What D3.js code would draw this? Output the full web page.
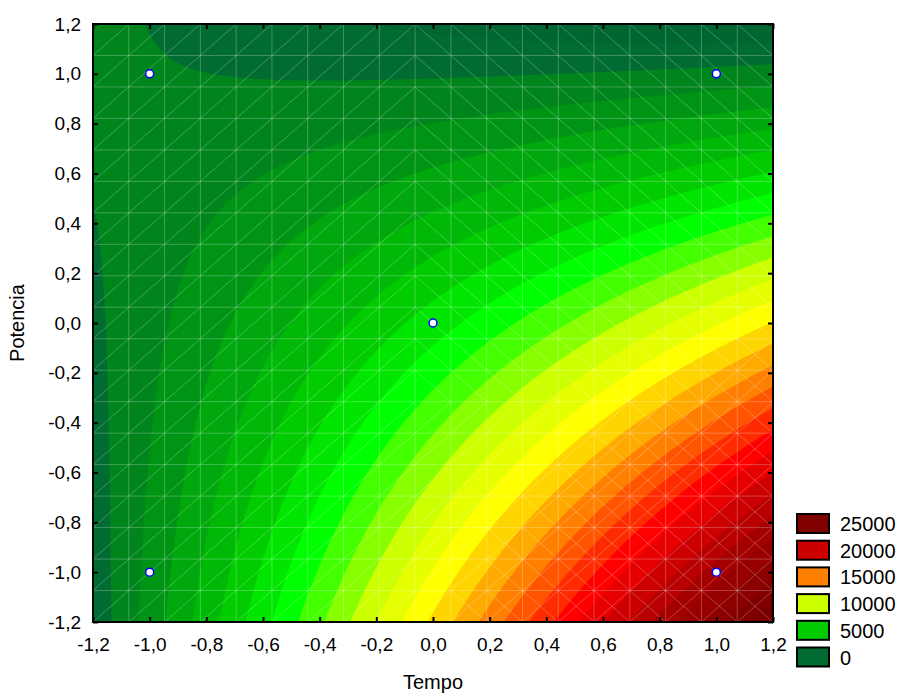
<!DOCTYPE html>
<html>
<head>
<meta charset="utf-8">
<script src="https://cdn.jsdelivr.net/npm/d3@7"></script>
<style>
  body { margin: 0; background: #fff; }
  text { font-family: Arial, "Liberation Sans", sans-serif; fill: #000; }
</style>
</head>
<body>
<svg id="chart" width="900" height="693"></svg>
<script>
// Axis ticks (coded factor levels)
const xTicks = [-1.2, -1.0, -0.8, -0.6, -0.4, -0.2, 0.0, 0.2, 0.4, 0.6, 0.8, 1.0, 1.2];
const yTicks = [-1.2, -1.0, -0.8, -0.6, -0.4, -0.2, 0.0, 0.2, 0.4, 0.6, 0.8, 1.0, 1.2];

// Design points
const tempo    = [-1, 1, -1, 1, 0];
const potencia = [-1, -1, 1, 1, 0];

// Fitted response surface: z = b0 + b1*T + b2*P + b12*T*P + b11*T^2 + b22*P^2
const surfaceTerms = ["b0", "b1", "b2", "b12", "b11", "b22"];
const surfaceCoefs = [6495, 5100, -5600, -5000, 300, 0];

// Contour levels
const contourLevels = [-2000, -1000, 0, 1000, 2000, 3000, 4000, 5000, 6000, 7000, 8000, 9000,
  10000, 11000, 12000, 13000, 14000, 15000, 16000, 17000, 18000, 19000, 20000,
  21000, 22000, 23000, 24000, 25000, 26000];

// Colour gradient anchors
const colorLevels = [-2000, 0, 1000, 2000, 5000, 7000, 10000, 12000, 15000, 18000, 20000, 22000, 25000, 26000];
const colorValues = ["#005f31", "#006c31", "#00841c", "#009414", "#00cc00", "#00ff00", "#ccff00",
  "#ffff00", "#ff8000", "#ff0000", "#cc0000", "#a40000", "#800000", "#780000"];

// Legend entries
const legendLevels = [25000, 20000, 15000, 10000, 5000, 0];

const plot = { left: 93, top: 24, right: 773, bottom: 622 };
const svg = d3.select("#chart");

const xScale = d3.scaleLinear().domain([-1.2, 1.2]).range([plot.left, plot.right]);
const yScale = d3.scaleLinear().domain([-1.2, 1.2]).range([plot.bottom, plot.top]);
const color = d3.scaleLinear().domain(colorLevels).range(colorValues)
  .interpolate(d3.interpolateRgb).clamp(true);

const coef = Object.fromEntries(surfaceTerms.map((k, i) => [k, surfaceCoefs[i]]));
function surface(t, p) {
  return coef.b0 + coef.b1 * t + coef.b2 * p + coef.b12 * t * p + coef.b11 * t * t + coef.b22 * p * p;
}

// Sample the surface on a fine grid for the filled contours
const [x0, x1] = xScale.domain();
const [y0, y1] = yScale.domain();
const nx = 340, ny = 299;
const values = new Array(nx * ny);
for (let j = 0; j < ny; j++) {
  const p = y1 - (j + 0.5) / ny * (y1 - y0);
  for (let i = 0; i < nx; i++) {
    const t = x0 + (i + 0.5) / nx * (x1 - x0);
    values[j * nx + i] = surface(t, p);
  }
}
const bands = d3.contours().size([nx, ny]).thresholds(contourLevels)(values);

const gridToScreen = d3.geoTransform({
  point: function (gx, gy) {
    this.stream.point(xScale(x0 + gx / nx * (x1 - x0)), yScale(y1 - gy / ny * (y1 - y0)));
  }
});
const path = d3.geoPath(gridToScreen);

svg.append("defs").append("clipPath").attr("id", "plotClip")
  .append("rect")
  .attr("x", plot.left).attr("y", plot.top)
  .attr("width", plot.right - plot.left).attr("height", plot.bottom - plot.top);

const area = svg.append("g").attr("clip-path", "url(#plotClip)");
area.append("rect")
  .attr("x", plot.left).attr("y", plot.top)
  .attr("width", plot.right - plot.left).attr("height", plot.bottom - plot.top)
  .attr("fill", color(contourLevels[0]));

area.append("g").selectAll("path").data(bands).join("path")
  .attr("d", path)
  .attr("fill", d => color(d.value))
  .attr("stroke", "none");

// Triangulation mesh of the fitted surface
const meshN = 19;
const meshT = d3.range(meshN + 1).map(k => x0 + k * (x1 - x0) / meshN);
const meshP = d3.range(meshN + 1).map(k => y0 + k * (y1 - y0) / meshN);
const mesh = area.append("g")
  .attr("stroke", "#ffffff").attr("stroke-opacity", 0.25).attr("stroke-width", 1)
  .attr("fill", "none");
meshT.slice(1, -1).forEach(t => {
  mesh.append("line").attr("x1", xScale(t)).attr("x2", xScale(t))
    .attr("y1", plot.top).attr("y2", plot.bottom);
});
meshP.slice(1, -1).forEach(p => {
  mesh.append("line").attr("y1", yScale(p)).attr("y2", yScale(p))
    .attr("x1", plot.left).attr("x2", plot.right);
});
for (let i = 0; i < meshN; i++) {
  for (let j = 0; j < meshN; j++) {
    const ta = meshT[i], tb = meshT[i + 1], pa = meshP[j], pb = meshP[j + 1];
    const tc = (ta + tb) / 2, pc = (pa + pb) / 2;
    const zc = surface(tc, pc);
    const both = zc > 13800;
    const back = tc > -0.05 && pc > -0.3;
    if (both || !back) {
      mesh.append("line").attr("x1", xScale(ta)).attr("y1", yScale(pa))
        .attr("x2", xScale(tb)).attr("y2", yScale(pb));
    }
    if (both || back) {
      mesh.append("line").attr("x1", xScale(ta)).attr("y1", yScale(pb))
        .attr("x2", xScale(tb)).attr("y2", yScale(pa));
    }
  }
}

// Design points
svg.append("g").selectAll("circle").data(tempo.map((t, i) => [t, potencia[i]])).join("circle")
  .attr("cx", d => xScale(d[0])).attr("cy", d => yScale(d[1]))
  .attr("r", 4)
  .attr("fill", "#ffffff").attr("stroke", "#0000ff").attr("stroke-width", 1.5);

// Axes
const locale = d3.formatLocale({ decimal: ",", thousands: ".", grouping: [3], currency: ["", ""], minus: "-" });
const fmt = locale.format(".1f");

const axisB = svg.append("g").attr("transform", `translate(0,${plot.bottom})`)
  .call(d3.axisBottom(xScale).tickValues(xTicks).tickFormat(fmt).tickSize(-5).tickPadding(16));
const axisL = svg.append("g").attr("transform", `translate(${plot.left},0)`)
  .call(d3.axisLeft(yScale).tickValues(yTicks).tickFormat(fmt).tickSize(-5).tickPadding(12));
const axisT = svg.append("g").attr("transform", `translate(0,${plot.top})`)
  .call(d3.axisTop(xScale).tickValues(xTicks).tickFormat("").tickSize(-5));
const axisR = svg.append("g").attr("transform", `translate(${plot.right},0)`)
  .call(d3.axisRight(yScale).tickValues(yTicks).tickFormat("").tickSize(-5));
[axisB, axisL, axisT, axisR].forEach(g => {
  g.select(".domain").remove();
  g.selectAll(".tick line").attr("stroke", "#000").attr("stroke-width", 2);
  g.selectAll("text").attr("font-size", 19).attr("font-family", "Arial, 'Liberation Sans', sans-serif");
});

svg.append("rect")
  .attr("x", plot.left).attr("y", plot.top)
  .attr("width", plot.right - plot.left).attr("height", plot.bottom - plot.top)
  .attr("fill", "none").attr("stroke", "#000").attr("stroke-width", 2);

// Axis titles
svg.append("text").attr("x", 433).attr("y", 689).attr("text-anchor", "middle")
  .attr("font-size", 20).text("Tempo");
svg.append("text").attr("transform", "translate(24,323) rotate(-90)").attr("text-anchor", "middle")
  .attr("font-size", 20).text("Potencia");

// Legend
const legend = svg.append("g");
const rowH = 26.7;
legendLevels.forEach((lv, i) => {
  const y = 514 + i * rowH;
  legend.append("rect").attr("x", 797).attr("y", y).attr("width", 32).attr("height", 19)
    .attr("fill", color(lv)).attr("stroke", "#000").attr("stroke-width", 2);
  legend.append("text").attr("x", 840).attr("y", y + 10).attr("dy", "0.35em")
    .attr("font-size", 20).text(lv);
});
</script>
</body>
</html>
